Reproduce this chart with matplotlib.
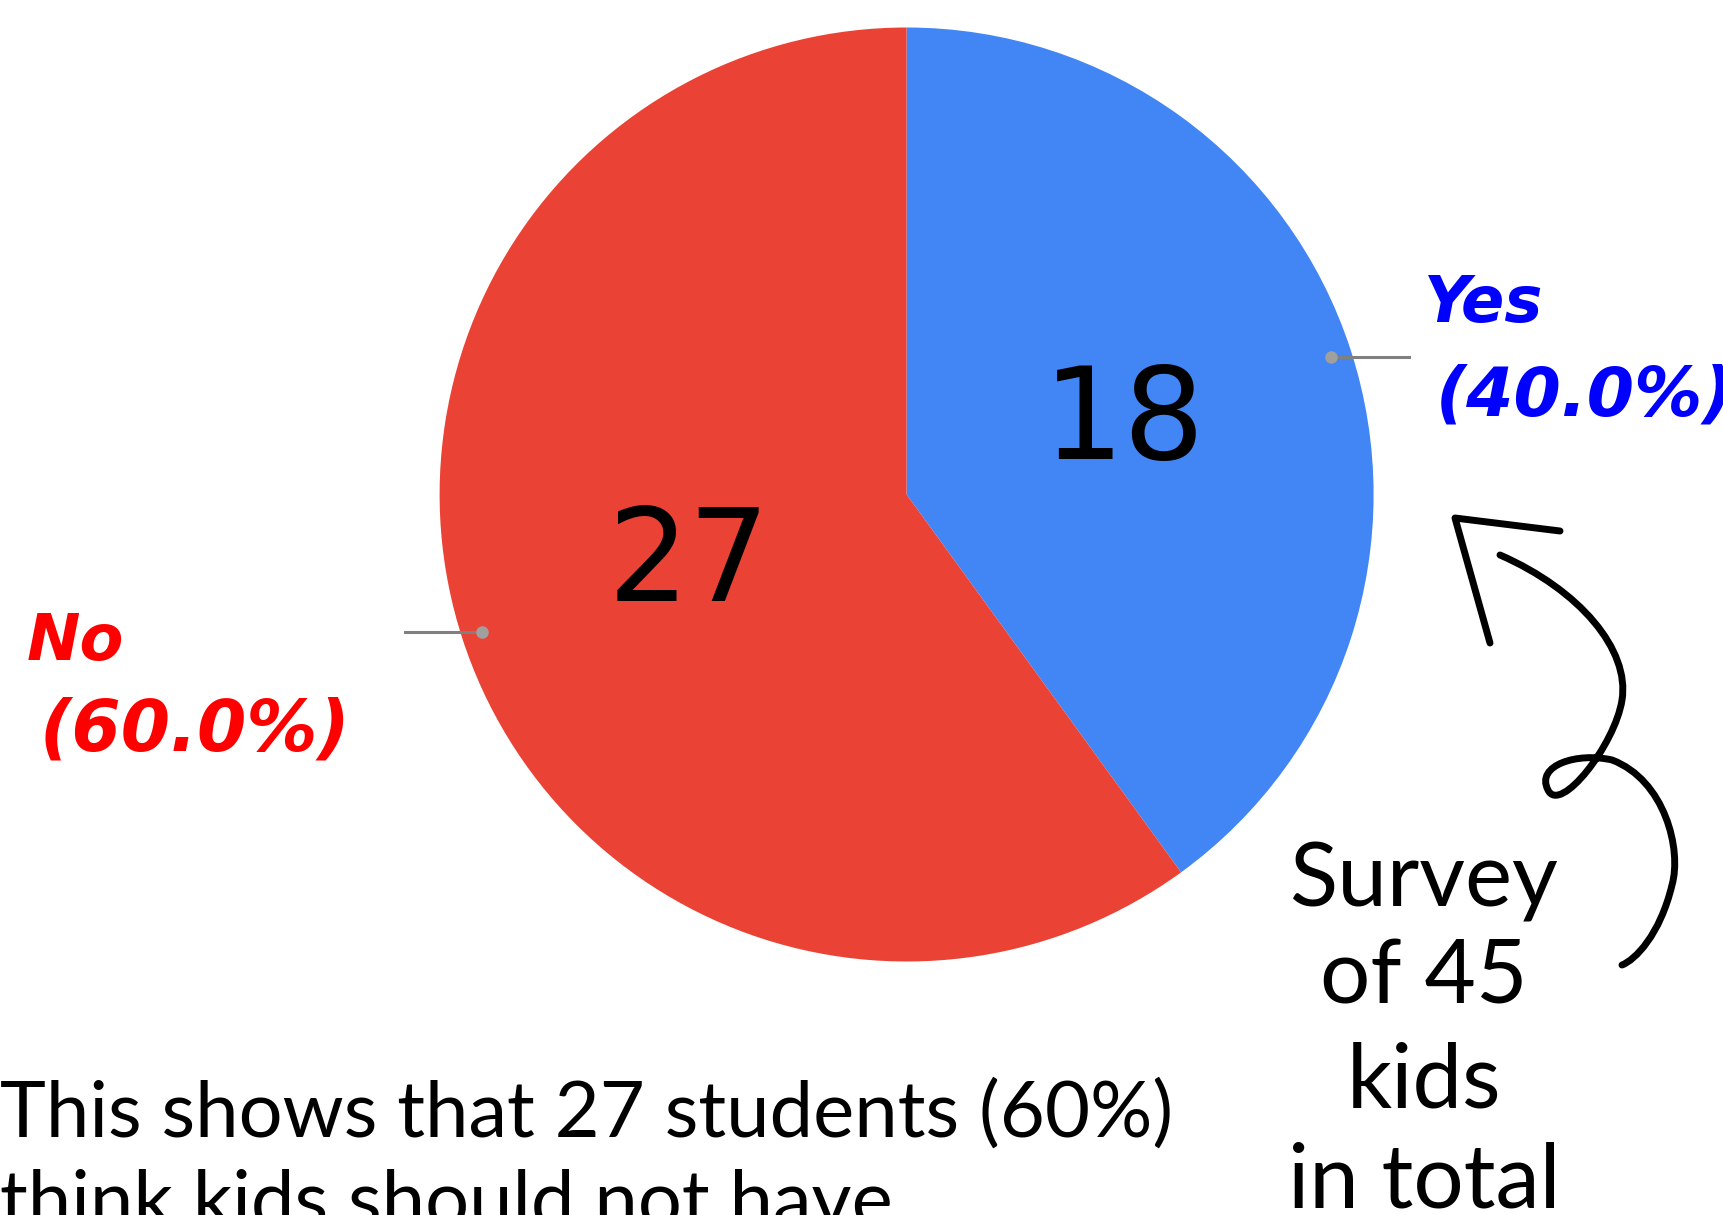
import numpy as np
import matplotlib
matplotlib.use("Agg")
from matplotlib import pyplot as plt
from matplotlib.path import Path
from matplotlib.patches import PathPatch

# survey answers
labels = ["Yes", "No"]
counts = [18, 27]
colors = ["#4285F4", "#EA4335"]
label_colors = ["#0000FF", "#FF0000"]
total = sum(counts)

W, H = 1723, 1215
fig = plt.figure(figsize=(W / 100, H / 100), dpi=100)
fig.patch.set_facecolor("white")

# pie axes, placed in pixel units of the picture
cx, cy, r = 906.6, 494.5, 467
ax = fig.add_axes([(cx - r) / W, (H - cy - r) / H, 2 * r / W, 2 * r / H])
wedges, texts, autotexts = ax.pie(
    counts, colors=colors, startangle=90, counterclock=False,
    autopct=lambda p: "{:d}".format(int(round(p * total / 100))),
    pctdistance=0.49, textprops=dict(fontsize=92, color="black"),
    wedgeprops=dict(linewidth=0))
ax.set_xlim(-1, 1)
ax.set_ylim(-1, 1)
ax.set_aspect("equal")
ax.axis("off")

# leader lines with dots
for w in wedges:
    ang = np.deg2rad((w.theta1 + w.theta2) / 2)
    x0, y0 = 0.955 * np.cos(ang), 0.955 * np.sin(ang)
    x1 = 1.075 * np.sign(x0)
    ax.plot([x0, x1], [y0, y0], color="#808080", lw=2.2, clip_on=False, zorder=3)
    ax.plot([x0], [y0], "o", color="#A0A0A0", ms=8, clip_on=False, zorder=4)


def px(x, y):
    return x / W, 1 - y / H


hand = dict(fontweight="bold", fontstyle="italic", family=["DejaVu Sans"])

# Yes label
fig.text(*px(1424, 322), labels[0], color=label_colors[0], fontsize=46, **hand)
fig.text(*px(1436, 415), "({:.1f}%)".format(100 * counts[0] / total),
         color=label_colors[0], fontsize=49, **hand)
# No label
fig.text(*px(27, 660), labels[1], color=label_colors[1], fontsize=46, **hand)
fig.text(*px(40, 750), "({:.1f}%)".format(100 * counts[1] / total),
         color=label_colors[1], fontsize=51, **hand)

thin = dict(family=["Lato", "DejaVu Sans"], fontweight="normal", color="black")

fig.text(*px(0, 1137), "This shows that 27 students (60%)", fontsize=56, **thin)
fig.text(*px(0, 1226), "think kids should not have", fontsize=56, **thin)

for line, yb in zip(["Survey", "of 45", "kids", "in total"], [907, 1003, 1108, 1207]):
    fig.text(*px(1424, yb), line, fontsize=64, ha="center", **thin)

# hand drawn curly arrow
ov = fig.add_axes([0, 0, 1, 1], facecolor="none")
ov.set_xlim(0, W)
ov.set_ylim(H, 0)
ov.axis("off")
ov.plot([1490, 1455, 1560], [643, 518, 531], color="black", lw=5,
        solid_capstyle="round", solid_joinstyle="round")
verts = [(1500, 555),
         (1580, 590), (1630, 650), (1622, 700),
         (1615, 745), (1560, 815), (1548, 790),
         (1535, 765), (1578, 752), (1612, 760),
         (1665, 780), (1682, 850), (1672, 885),
         (1660, 935), (1635, 960), (1622, 965)]
codes = [Path.MOVETO] + [Path.CURVE4] * 15
ov.add_patch(PathPatch(Path(verts, codes), facecolor="none", edgecolor="black",
                       lw=5, capstyle="round"))

fig.savefig("out.png", dpi=100)
